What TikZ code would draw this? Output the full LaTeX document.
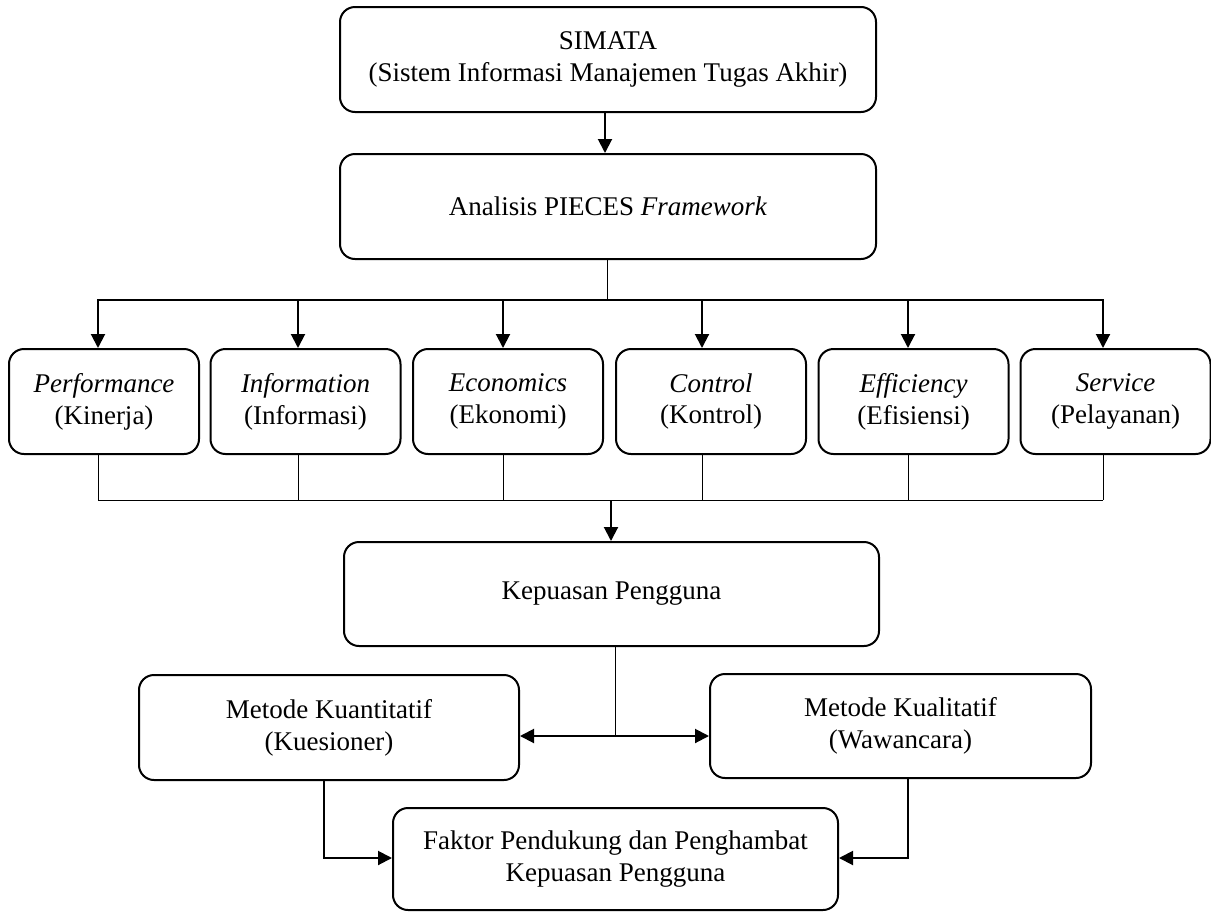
\documentclass[tikz,border=0pt]{standalone}
\usepackage{fontspec}
\setmainfont{Liberation Serif}
\usetikzlibrary{arrows.meta}

\tikzset{
  box/.style={draw, line width=2pt, rounded corners=15pt, align=center,
    inner sep=0pt, font=\fontsize{27}{32}\selectfont},
  arr/.style={line width=2pt, -{Triangle[length=14pt,width=14pt]}},
  wire/.style={line width=1pt},
  bar/.style={line width=1.5pt, line cap=rect}
}

\begin{document}
\begin{tikzpicture}[x=1pt, y=-1pt]
  \useasboundingbox (0,0) rectangle (1211,911);
  \node[box, minimum width=536pt, minimum height=105pt] (simata) at (608,59.5)
    {SIMATA\\(Sistem Informasi Manajemen Tugas Akhir)};
  \node[box, minimum width=536pt, minimum height=105pt] (pieces) at (608,206.5)
    {Analisis PIECES \textit{Framework}};
  \draw[arr] ([xshift=-3]simata.south) -- ([xshift=-3]pieces.north);

  \coordinate (topbar) at (607,300);
  \coordinate (botbar) at (611,500);
  \foreach \name/\cx/\dx/\en/\id in {
    perf/104/-6/Performance/Kinerja, info/305.5/-7.5/Information/Informasi,
    econ/508/-5/Economics/Ekonomi, ctrl/711/-9/Control/Kontrol,
    effi/913.5/-5.5/Efficiency/Efisiensi, serv/1115.5/-12.5/Service/Pelayanan}
  {
    \node[box, minimum width=190pt, minimum height=105pt] (\name) at (\cx,401.5)
      {\textit{\en}\\(\id)};
    \draw[arr] ([xshift=\dx]\name.north |- topbar) -- ([xshift=\dx]\name.north);
    \draw[wire] ([xshift=\dx]\name.south) -- ([xshift=\dx]\name.south |- botbar);
  }
  \draw[wire] (pieces.south -| topbar) -- (topbar);
  \draw[bar] ([xshift=-6]perf.north |- topbar) -- ([xshift=-12.5]serv.north |- topbar);
  \draw[wire] ([xshift=-6]perf.south |- botbar) -- ([xshift=-12.5]serv.south |- botbar);

  \node[box, minimum width=535pt, minimum height=104pt] (puas) at (611.5,594)
    {Kepuasan Pengguna};
  \draw[arr] (botbar) -- (botbar |- puas.north);

  \node[box, minimum width=380pt, minimum height=105pt] (kuan) at (329,727.5)
    {Metode Kuantitatif\\(Kuesioner)};
  \node[box, minimum width=381pt, minimum height=104pt] (kual) at (900.5,726)
    {Metode Kualitatif\\(Wawancara)};
  \node[box, minimum width=445pt, minimum height=102pt] (faktor) at (615.5,859)
    {Faktor Pendukung dan Penghambat\\Kepuasan Pengguna};

  \coordinate (fork) at (615,736);
  \draw[wire] (puas.south -| fork) -- (fork);
  \draw[arr] (fork) -- (fork -| kuan.east);
  \draw[arr] (fork) -- (fork -| kual.west);
  \coordinate (kneeL) at (324,858);
  \coordinate (kneeR) at (908,858);
  \draw[arr] (kuan.south -| kneeL) -- (kneeL) -- (kneeL -| faktor.west);
  \draw[arr] (kual.south -| kneeR) -- (kneeR) -- (kneeR -| faktor.east);
\end{tikzpicture}
\end{document}
